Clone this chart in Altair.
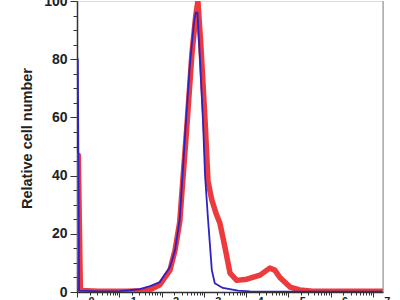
import altair as alt
import pandas as pd
import numpy as np

# x in decades (log10 units), y = relative cell number
blue_x = [0.02, 0.05, 0.5, 1.02, 1.25, 1.49, 1.73, 1.96, 2.20, 2.32, 2.43, 2.58, 2.67, 2.77, 2.81, 2.85,
          2.91, 2.98, 3.03, 3.10, 3.19, 3.26, 3.45, 3.81, 4.09, 4.3, 7.24]
blue_y = [80, 0.5, 0.2, 0.3, 0.6, 1.0, 2.0, 3.4, 8.6, 14.4, 25, 59, 78, 93, 96, 96,
          80, 59, 40, 25, 7.5, 3.0, 1.4, 0.5, 0.2, 0.1, 0.1]

red_x = [0.03, 0.08, 0.5, 1.2, 1.49, 1.73, 1.96, 2.20, 2.32, 2.43, 2.60, 2.72, 2.81, 2.86, 2.93, 3.03,
         3.10, 3.19, 3.29, 3.38, 3.50, 3.62, 3.78, 4.02, 4.33, 4.56, 4.68, 4.80, 5.04, 5.27, 5.58, 6.0, 7.24]
red_y = [47, 0.5, 0.3, 0.3, 0.4, 0.8, 2.5, 7.5, 14.4, 24, 57, 82, 95, 100, 85, 59,
         38, 31.6, 27, 23.7, 15.4, 6.5, 4.0, 4.4, 5.8, 8.2, 7.5, 5.0, 1.7, 0.7, 0.3, 0.3, 0.3]

x_max = 7.24
major_x = [0, 1, 2, 3, 4, 5, 6, 7]
minor_x = [float(round(k + np.log10(m), 4)) for k in range(8) for m in range(2, 10) if k + np.log10(m) <= x_max]
x_ticks = sorted(float(v) for v in major_x + minor_x)
y_ticks = list(range(0, 101, 5))

df = pd.DataFrame({
    "x": red_x + blue_x,
    "y": red_y + blue_y,
    "series": ["red"] * len(red_x) + ["blue"] * len(blue_x),
})

is_major_x = "abs(datum.value - round(datum.value)) < 0.001"
x_axis = alt.Axis(values=x_ticks, title=None, grid=False,
                  labelExpr=f"{is_major_x} ? format(datum.value, 'd') : ''",
                  tickSize={"condition": {"test": is_major_x, "value": 5}, "value": 3},
                  labelOffset=14, labelBaseline="top", labelPadding=-2,
                  labelFontSize=11, labelFontWeight="bold", labelFont="Liberation Sans",
                  labelColor="#222", domainColor="#333", tickColor="#333",
                  domainWidth=1.5, labelFlush=False, labelOverlap=False, labelBound=False)
x_scale = alt.Scale(domain=[0, x_max], nice=False, zero=False)

y_axis = alt.Axis(values=y_ticks, title="Relative cell number", grid=False,
                  labelExpr="datum.value % 20 === 0 ? format(datum.value, 'd') : ''",
                  tickSize={"condition": {"test": "datum.value % 20 === 0", "value": 7}, "value": 4},
                  labelFontSize=14, labelFontWeight="bold", labelFont="Liberation Sans",
                  labelColor="#222", labelPadding=3, labelFlush=False, labelOverlap=False,
                  titleFontSize=14.5, titleFontWeight="bold", titleFont="Liberation Sans",
                  titleColor="#222", titlePadding=9, titleY=137,
                  domainColor="#333", tickColor="#333", domainWidth=1.5)

lines = alt.Chart(df).mark_line(clip=True, strokeJoin="round", strokeCap="round").encode(
    x=alt.X("x:Q", scale=x_scale, axis=x_axis),
    y=alt.Y("y:Q", scale=alt.Scale(domain=[0, 100], nice=False), axis=y_axis),
    color=alt.Color("series:N", scale=alt.Scale(domain=["red", "blue"], range=["#ec3b3c", "#2e22c4"]), legend=None),
    strokeWidth=alt.StrokeWidth("series:N", scale=alt.Scale(domain=["red", "blue"], range=[5.5, 1.8]), legend=None),
    order=alt.Order("series:N"),
    detail="series:N",
)

border = alt.Chart(pd.DataFrame({"x": [x_max]})).mark_rule(color="#888", strokeWidth=1).encode(
    x=alt.X("x:Q", scale=x_scale, axis=x_axis),
    y=alt.value(0),
    y2=alt.value(291),
)

chart = alt.layer(lines, border).properties(
    width=306, height=291,
    autosize=alt.AutoSizeParams(type="none"),
    padding={"left": 77, "top": 1, "right": 17, "bottom": 8},
).configure_view(stroke=None).configure(background="white")

chart.save("out.html", embed_options={"renderer": "svg", "actions": False})
